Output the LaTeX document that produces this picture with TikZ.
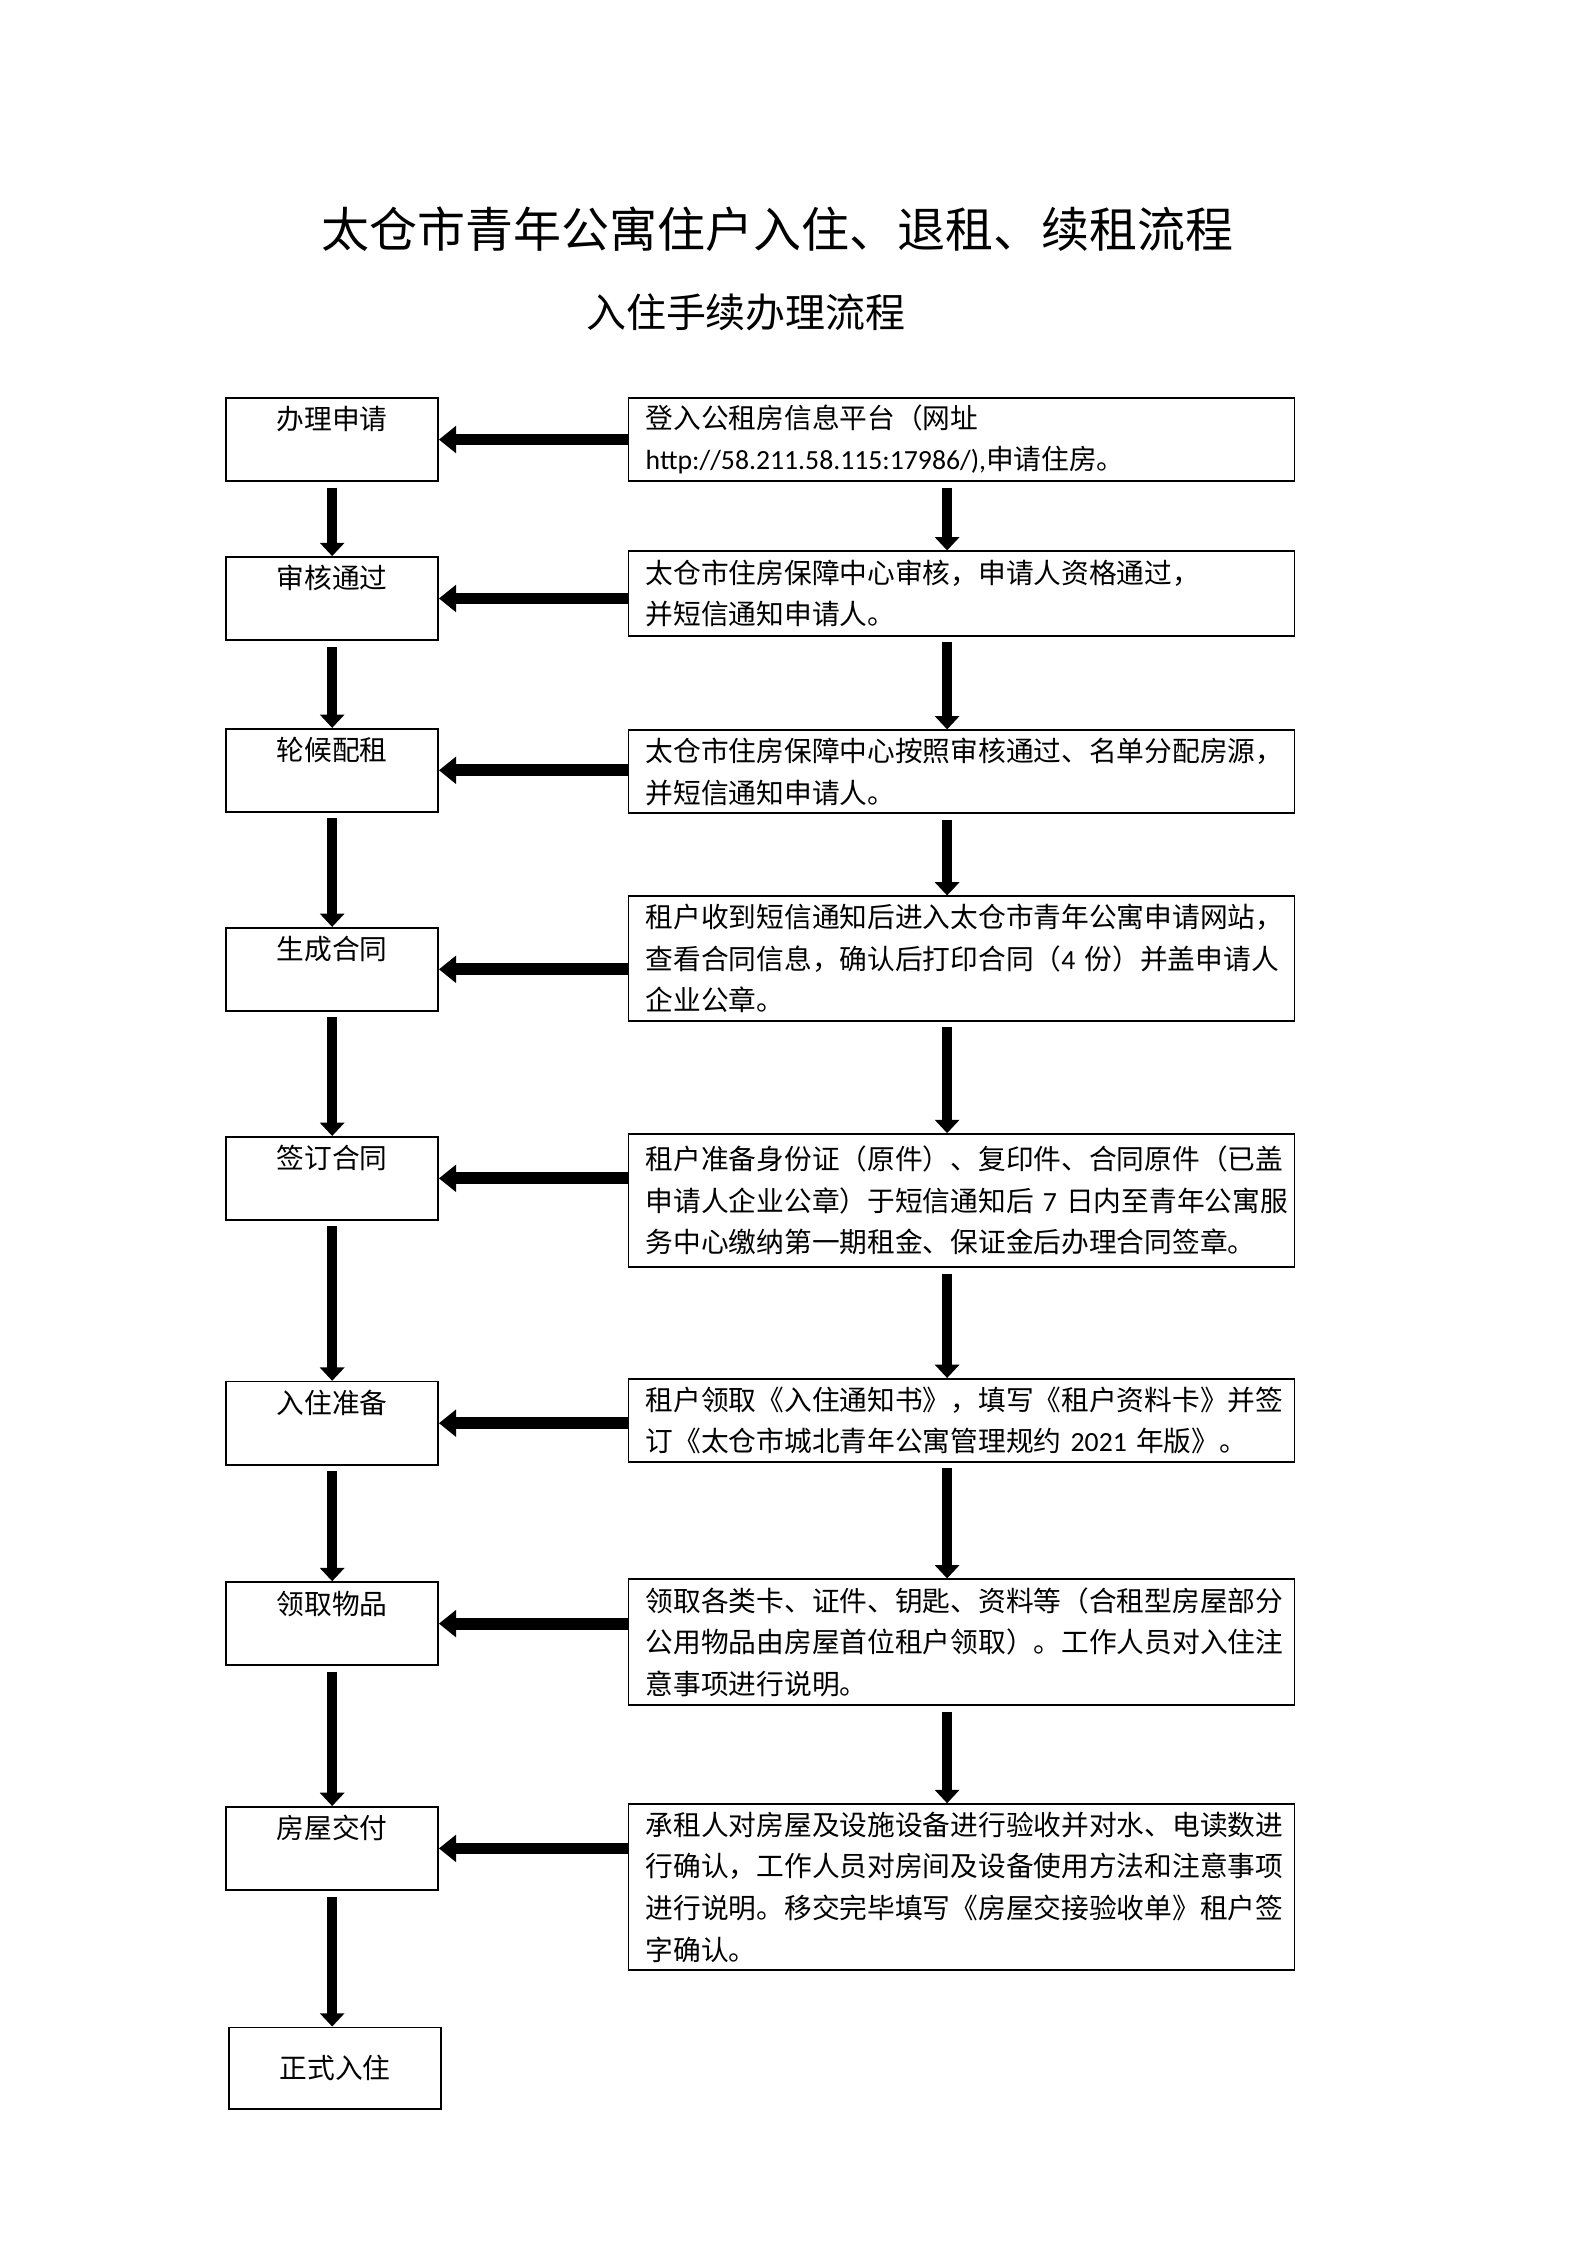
\documentclass[tikz,border=0pt]{standalone}
\usepackage{fontspec}
\setmainfont{Noto Sans CJK SC}
\newfontfamily\lat{Carlito}
\usetikzlibrary{arrows.meta,positioning}
\newlength\pxu
\setlength\pxu{0.53726pt}
\newcommand\bodyfont{\fontsize{10.4pt}{15.6pt}\selectfont}
\tikzset{
  nbox/.style={draw,line width=0.6pt,minimum width=148\pxu,inner sep=0pt,font=\bodyfont},
  lbox/.style={nbox,text height=12pt,text depth=19.2pt},
  rbox/.style={draw,line width=0.6pt,text width=441\pxu,inner xsep=12\pxu,inner ysep=2pt,
    align=left,font=\bodyfont},
  harr/.style={-{Triangle[length=6.5pt,width=10pt]},line width=4.4pt},
  varr/.style={-{Triangle[length=5pt,width=9pt]},line width=3.6pt,shorten <=4\pxu}
}
\begin{document}
\begin{tikzpicture}[x=\pxu,y=-\pxu]
  \useasboundingbox (0,0) rectangle (1108,1568);
  \node[font=\fontsize{18pt}{22pt}\selectfont] (title) at (543,160)
    {太仓市青年公寓住户入住、退租、续租流程};
  \node[font=\fontsize{15pt}{18pt}\selectfont] (sub) at (521,218) {入住手续办理流程};
  \foreach \n/\y/\t in {1/307/办理申请,2/418/审核通过,3/538/轮候配租,4/677/生成合同,
      5/823/签订合同,6/994/入住准备,7/1134/领取物品,8/1291/房屋交付}
    \node[lbox] (l\n) at (232,\y) {\t};
  \node[nbox,minimum height=57\pxu] (l9) at (234,1444.5) {正式入住};
  \node[rbox,minimum height=58\pxu] (r1) at (671.5,307)
    {登入公租房信息平台（网址\\{\lat http://58.211.58.115:17986/),}申请住房。};
  \node[rbox,minimum height=59\pxu] (r2) at (671.5,414.5)
    {太仓市住房保障中心审核，申请人资格通过，\\并短信通知申请人。};
  \node[rbox,minimum height=58\pxu] (r3) at (671.5,539)
    {太仓市住房保障中心按照审核通过、名单分配房源，\\并短信通知申请人。};
  \node[rbox,minimum height=87\pxu] (r4) at (671.5,669.5)
    {租户收到短信通知后进入太仓市青年公寓申请网站，\\
     查看合同信息，确认后打印合同（{\lat 4}~份）并盖申请人\\企业公章。};
  \node[rbox,minimum height=93\pxu] (r5) at (671.5,838.5)
    {租户准备身份证（原件）、复印件、合同原件（已盖\\
     申请人企业公章）于短信通知后~{\lat 7}~日内至青年公寓服\\
     务中心缴纳第一期租金、保证金后办理合同签章。};
  \node[rbox,minimum height=58\pxu] (r6) at (671.5,992)
    {租户领取《入住通知书》，填写《租户资料卡》并签\\
     订《太仓市城北青年公寓管理规约~{\lat 2021}~年版》。};
  \node[rbox,minimum height=88\pxu] (r7) at (671.5,1147)
    {领取各类卡、证件、钥匙、资料等（合租型房屋部分\\
     公用物品由房屋首位租户领取）。工作人员对入住注\\意事项进行说明。};
  \node[rbox,minimum height=116\pxu] (r8) at (671.5,1318)
    {承租人对房屋及设施设备进行验收并对水、电读数进\\
     行确认，工作人员对房间及设备使用方法和注意事项\\
     进行说明。移交完毕填写《房屋交接验收单》租户签\\字确认。};
  \foreach \i in {1,...,8}
    \draw[harr] (r\i.west |- l\i.east) -- (l\i.east);
  \foreach \i/\j in {1/2,2/3,3/4,4/5,5/6,6/7,7/8,8/9}
    \draw[varr] (l\i.south) -- (l\i.south |- l\j.north);
  \foreach \i/\j in {1/2,2/3,3/4,4/5,5/6,6/7,7/8}
    \draw[varr] ([xshift=-10\pxu]r\i.south) -- ([xshift=-10\pxu]r\i.south |- r\j.north);
\end{tikzpicture}
\end{document}
